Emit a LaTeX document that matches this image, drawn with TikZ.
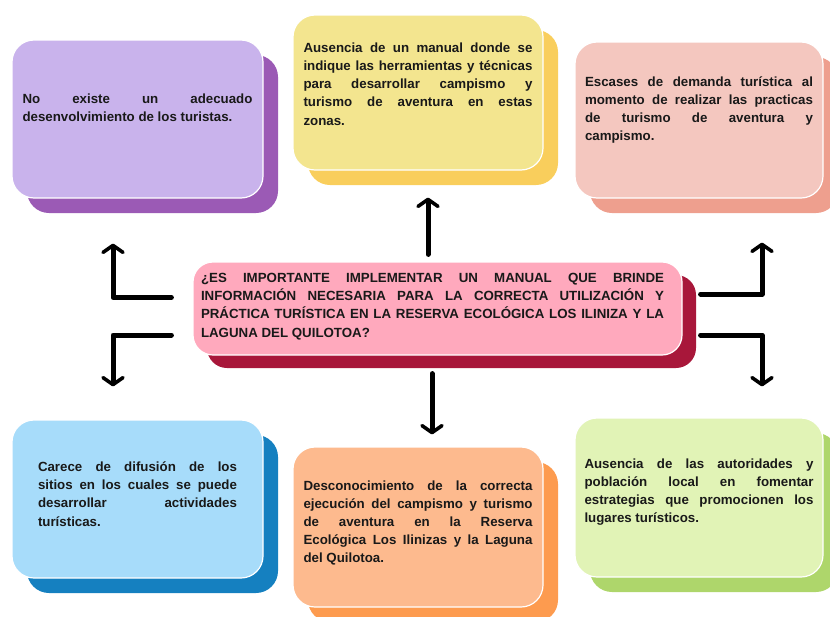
\documentclass[tikz,border=0pt]{standalone}
\usepackage{fontspec}
\setmainfont{Liberation Sans}
\usepackage{tikz}
\usetikzlibrary{positioning, calc, arrows.meta, shadows}
\definecolor{purpleA}{HTML}{C9B3EC}
\definecolor{purpleB}{HTML}{9B5AB5}
\definecolor{yellowA}{HTML}{F3E58F}
\definecolor{yellowB}{HTML}{F9CE5C}
\definecolor{salmonA}{HTML}{F4C7BF}
\definecolor{salmonB}{HTML}{EE9F8E}
\definecolor{roseA}{HTML}{FFA9BD}
\definecolor{roseB}{HTML}{A8173A}
\definecolor{blueA}{HTML}{A7DCFA}
\definecolor{blueB}{HTML}{1580C0}
\definecolor{orangeA}{HTML}{FDBA8E}
\definecolor{orangeB}{HTML}{FD9B4F}
\definecolor{greenA}{HTML}{E1F3B6}
\definecolor{greenB}{HTML}{AED66B}
\hyphenpenalty=10000
\exhyphenpenalty=10000
\tikzset{card/.style={rounded corners=22pt, draw=white, line width=1.2pt, inner sep=0pt}}
\tikzset{back/.style={drop shadow={shadow xshift=15pt, shadow yshift=-15pt, fill=#1, draw=none, opacity=1}}}
\tikzset{cardText/.style={text width=#1, align=justify, inner sep=0pt, text=black!90,
    font=\bfseries\fontsize{13.3}{18.2}\selectfont}}
\tikzset{bigArrow/.style={line width=5pt, line join=round, line cap=round,
    -{Straight Barb[length=7pt, width=20pt, line width=3.6pt, round]}}}

\begin{document}
\begin{tikzpicture}[x=1pt, y=-1pt]
      \useasboundingbox (0,0) rectangle (830,616);

      % CARDS

      \node[card, back=purpleB, fill=purpleA, minimum width=251pt, minimum height=158pt] (c1) at (137.5,119) {};
      \node[card, back=yellowB, fill=yellowA, minimum width=250pt, minimum height=155pt] (c2) at (418,92.5) {};
      \node[card, back=salmonB, fill=salmonA, minimum width=248pt, minimum height=156pt] (c3) at (699,120) {};
      \node[card, back=blueB, fill=blueA, minimum width=251pt, minimum height=158pt] (c4) at (137.5,499) {};
      \node[card, back=orangeB, fill=orangeA, minimum width=250pt, minimum height=160pt] (c5) at (418,527) {};
      \node[card, back=greenB, fill=greenA, minimum width=248pt, minimum height=159pt] (c6) at (699,497.5) {};
      \node[card, rounded corners=20pt, drop shadow={shadow xshift=14pt, shadow yshift=-13pt, fill=roseB, draw=none, opacity=1},
            fill=roseA, minimum width=489pt, minimum height=93pt] (q0) at (437.5,308.5) {};

      % LABELS

      \node[cardText=230pt] (c1Label) at ([yshift=11pt]c1.center) {No existe un adecuado\linebreak desenvolvimiento de los turistas.};
      \node[cardText=229pt] (c2Label) at ([yshift=8.5pt]c2.center) {Ausencia de un manual donde se\linebreak indique las herramientas y técnicas\linebreak para desarrollar campismo y\linebreak turismo de aventura en estas\linebreak zonas.};
      \node[cardText=228pt] (c3Label) at ([yshift=10pt]c3.center) {Escases de demanda turística al\linebreak momento de realizar las practicas\linebreak de turismo de aventura y\linebreak campismo.};
      \node[cardText=199pt] (c4Label) at ([yshift=5pt]c4.center) {Carece de difusión de los\linebreak sitios en los cuales se puede\linebreak desarrollar actividades\linebreak turísticas.};
      \node[cardText=229pt] (c5Label) at ([yshift=4pt]c5.center) {Desconocimiento de la correcta\linebreak ejecución del campismo y turismo\linebreak de aventura en la Reserva\linebreak Ecológica Los Ilinizas y la Laguna\linebreak del Quilotoa.};
      \node[cardText=229pt] (c6Label) at ([yshift=5.5pt]c6.center) {Ausencia de las autoridades y\linebreak población local en fomentar\linebreak estrategias que promocionen los\linebreak lugares turísticos.};
      \node[cardText=463pt] (qLabel) at ([xshift=-5pt, yshift=2pt]q0.center) {¿ES IMPORTANTE IMPLEMENTAR UN MANUAL QUE BRINDE\linebreak INFORMACIÓN NECESARIA PARA LA CORRECTA UTILIZACIÓN Y\linebreak PRÁCTICA TURÍSTICA EN LA RESERVA ECOLÓGICA LOS ILINIZA Y LA\linebreak LAGUNA DEL QUILOTOA?};

      % ARROWS
      \draw[bigArrow] ($(q0.north)+(-9.5,-7)$) -- ($(c2.south)+(10,27)$);
      \draw[bigArrow] ($(q0.south)+(-5.5,18)$) -- ($(c5.north)+(14,-12)$);
      \draw[bigArrow] ($(q0.west)+(-21,-11)$) -| ($(c1.south)+(-24.5,45)$);
      \draw[bigArrow] ($(q0.west)+(-21,26.5)$) -| ($(c4.north)+(-24.5,-33)$);
      \draw[bigArrow] ($(q0.east)+(18,-14.5)$) -| ($(c3.south)+(63,44)$);
      \draw[bigArrow] ($(q0.east)+(18,26.5)$) -| ($(c6.north)+(63,-31)$);

    \end{tikzpicture}
\end{document}
